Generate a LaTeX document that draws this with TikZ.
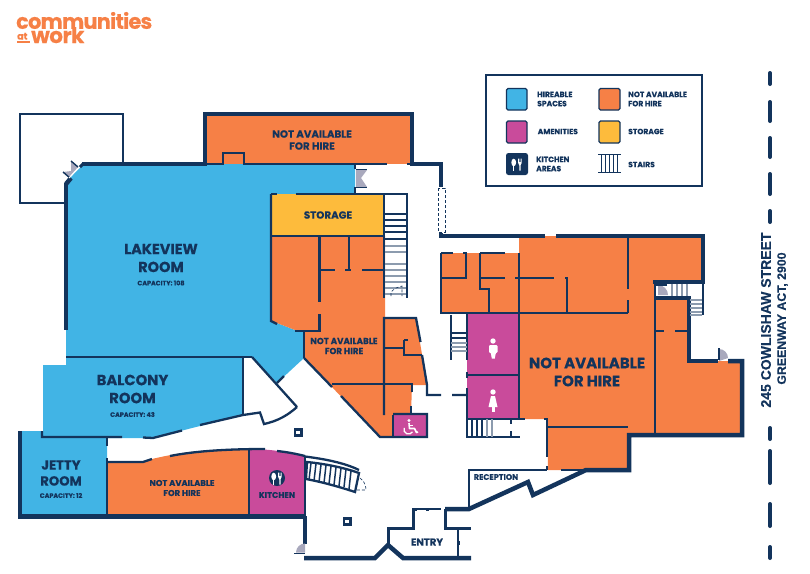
\documentclass[tikz,border=0pt]{standalone}
\usepackage{fontspec}
\setmainfont{Poppins}[BoldFeatures={FakeBold=0.25}]
\newfontfamily\addrfont{Liberation Sans}[BoldFeatures={FakeBold=0.2}]
\definecolor{blu}{HTML}{41B4E5}
\definecolor{org}{HTML}{F68046}
\definecolor{mag}{HTML}{C94B9B}
\definecolor{yel}{HTML}{FDBB3C}
\definecolor{nav}{HTML}{13345C}
\definecolor{dor}{HTML}{A9A9BD}
\definecolor{tre}{HTML}{8C9BAE}
\tikzset{
 wall/.style={draw=nav,line width=4.5pt,line join=miter},
 mwall/.style={draw=nav,line width=2.3pt},
 twall/.style={draw=nav,line width=1.4pt},
 tread/.style={draw=nav,line width=1.2pt},
 ftread/.style={draw=tre,line width=1.5pt},
 lab/.style={text=nav,font=\bfseries,align=center,inner sep=0pt},
 swatch/.style={draw=nav,line width=1.1pt,rounded corners=1.5pt},
 leg/.style={text=nav,font=\bfseries\fontsize{7.6}{9.2}\selectfont,align=left,anchor=west,inner sep=0pt},
 utensil/.pic={
  \fill[white] (-3.3,-1.5) ellipse[x radius=2.4,y radius=3.8];
  \fill[white] (-3.9,-1) rectangle (-2.7,6.5);
  \fill[white] (1.2,-5.5) -- (1.2,-1) .. controls (1.2,1) and (2.3,1) .. (2.3,1.5) -- (2.3,6.5) -- (3.5,6.5) -- (3.5,1.5) .. controls (3.5,1) and (4.6,1) .. (4.6,-1) -- (4.6,-5.5) -- (4,-5.5) -- (4,-2) -- (3.3,-2) -- (3.3,-5.5) -- (2.5,-5.5) -- (2.5,-2) -- (1.8,-2) -- (1.8,-5.5) -- cycle;
 },
}
\newcommand{\hsz}[2]{\fontsize{#1}{#2}\selectfont}
\begin{document}
\begin{tikzpicture}[x=1pt,y=-1pt]
\useasboundingbox (0,0) rectangle (810,573);
% logo
\node[anchor=west,inner sep=0pt,text=org,font=\bfseries\hsz{21}{22}] (logoa) at (16,20.5) {\addfontfeatures{LetterSpace=-4,FakeBold=0.6}communities};
\node[anchor=base west,inner sep=0pt,text=org,font=\bfseries\hsz{9.6}{10}] (logob) at (17,39.5) {\addfontfeatures{LetterSpace=-2}at};
\draw[org,line width=1.3pt] (17,42) -- (30,42);
\node[anchor=base west,inner sep=0pt,text=org,font=\bfseries\hsz{21.5}{22}] (logoc) at (31,43) {\addfontfeatures{LetterSpace=-2.5,FakeBold=0.6}work};
% balcony annex square
\draw[twall] (66,203) -- (20,203) -- (20,114) -- (123,114) -- (123,163);
% fills
\fill[blu] (82,164) -- (223,164) -- (223,152) -- (244,152) -- (244,164) -- (355,164) -- (355,194) -- (271,194) -- (271,321) -- (277,323) -- (295,330) -- (304,331) -- (304,358) -- (277,383) -- (252,357) -- (66,357) -- (66,183) -- cycle;
\fill[blu] (43,365) -- (66,365) -- (66,357) -- (243,357) -- (243,415) -- (153,438) -- (43,438) -- cycle;
\fill[blu] (20,431) -- (43,431) -- (43,437) -- (107,437) -- (107,516) -- (20,516) -- cycle;
\fill[org] (107,462) -- (143,462) -- (152,459) .. controls (185,451) and (215,449) .. (249,449) -- (249,516) -- (107,516) -- cycle;
\fill[mag] (249,449) .. controls (270,449) and (288,452) .. (305,456) -- (305,516) -- (249,516) -- cycle;
\fill[org] (205,114) rectangle (412,164);
\fill[yel] (271,194) rectangle (384,236);
\fill[org] (271,236) -- (385,236) -- (385,318) -- (416,318) -- (427,385) -- (412,385) -- (411,415) -- (393,415) -- (393,437) -- (380,437) -- (304,358) -- (304,331) -- (295,330) -- (277,323) -- (271,321) -- cycle;
\fill[mag] (393,415) rectangle (427,437);
\fill[org] (441,253) -- (519,253) -- (519,236) -- (703,236) -- (703,282) -- (655,282) -- (655,298) -- (689,298) -- (689,361) -- (742,361) -- (742,435) -- (629,435) -- (629,470) -- (548,470) -- (547,419) -- (519,419) -- (519,313) -- (441,313) -- cycle;
\fill[mag] (467,314) rectangle (519,419);
% outer walls
\draw[wall] (66,183) -- (66,330);
\draw[wall] (71,178) -- (66,184);
\draw[wall] (82,164) -- (205,164) -- (205,114) -- (412,114) -- (412,164) -- (441,164) -- (441,187);
\draw[wall] (441,233) -- (441,236) -- (545,236);
\draw[wall] (556,236) -- (703,236) -- (703,282) -- (653,282);
\draw[wall] (654,298) -- (689,298) -- (689,361) -- (718,361);
\draw[wall] (728,361) -- (742,361) -- (742,435) -- (629,435) -- (629,470) -- (586,470) -- (533,495) -- (528,482) -- (469,509) -- (445,509);
\draw[wall] (20,431) -- (20,516.5) -- (305,516.5);
\draw[wall] (305,516) -- (305,544);
\draw[wall] (304,558) -- (375,558) -- (388,545) -- (403,558) -- (471,558);
\draw[wall,line width=3pt] (388,545) -- (388,528) -- (413,528) -- (413,509);
\draw[wall,line width=3pt] (412,509) -- (417,509);
\draw[wall,line width=3pt] (445,509) -- (445,528) -- (471,528);
\draw[twall] (417,509) -- (441,509);
\fill[nav] (426,507.5) rectangle (429,510.5);
\draw[twall] (458,530) -- (458,558);
\fill[nav] (456.5,541) rectangle (459.5,545);
% door at lakeview corner
\fill[dor] (71,161) -- (78,167) -- (69,177) -- (63,172) -- (71,171) -- cycle;
\draw[twall] (71,161) -- (78,167) (63,172) -- (70,178);
\draw[white,line width=.8pt] (80,167) -- (69,178);
\draw[wall,line width=3pt] (80,167) -- (83,164);
% door north
\fill[dor] (356,170) -- (367,170) -- (361,178) -- (367,187) -- (356,187) -- cycle;
\draw[twall] (356,169.5) -- (367,169.5) (356,187.5) -- (367,187.5);
\draw[mwall] (355,164) -- (355,169) (355,187) -- (355,194);
\draw[mwall] (205,164) -- (223,164) -- (223,153) -- (244,153) -- (244,164) -- (387,164);
\draw[mwall] (407,164) -- (412,164);
% dashed door
\draw[nav,line width=.7pt,densely dashed] (438,188) rectangle (445,232);
% storage, stairs
\draw[mwall] (271,194) -- (271,321) -- (277,324);
\draw[mwall] (271,194) -- (277,194) (296,194) -- (407,194) -- (407,298);
\draw[mwall] (271,236) -- (384,236);
\draw[mwall] (384,194) -- (384,298);
\foreach \y in {214,220,226,232,239} {\draw[tread] (384,\y) -- (407,\y);}
\foreach \y in {246,252,264,270,276,282,288,294} {\draw[ftread] (385,\y) -- (406,\y);}
\draw[nav,line width=.6pt,densely dashed] (391,296) -- (391,292) .. controls (394,289) and (397,287) .. (402,286) -- (402,296);
% interior of mid block
\draw[mwall] (319.5,236) -- (319.5,302) (319.5,314) -- (319.5,331) -- (295,331);
\draw[mwall] (349,236) -- (349,270);
\draw[mwall] (319,270) -- (335,270) (345,270) -- (351,270) (362,270) -- (384,270);
\draw[mwall] (304,331) -- (304,358);
\draw[mwall] (252,357) -- (297,407);
\draw[mwall] (277,383) -- (284,376);
\draw[mwall] (304,358) -- (332,387) (341,396) -- (380,437) -- (427,437) -- (427,414) -- (393,414);
\draw[mwall] (393,415) -- (393,437);
\draw[mwall] (384,415) -- (384,318) -- (416,318) -- (420.5,342);
\draw[mwall] (422,355) -- (427,385) -- (427,395) -- (441,395) (452,395) -- (467,395);
\draw[mwall] (384,348) -- (404,348) (404,340) -- (408,340) (404,340) -- (404,355) -- (422,355);
\draw[mwall] (332,384) -- (412,384) -- (412,392) (411,406) -- (411,415);
% balcony
\draw[mwall] (66,357) -- (252,357);
\draw[mwall] (243,357) -- (243,416);
\draw[mwall] (42,431) -- (42,437) -- (122,437) (143,437.5) -- (153,438) -- (182,430.5) (200,425) -- (243,415) -- (260,412.5) -- (264,424) .. controls (278,421) and (288,415) .. (297,407);
\draw[mwall] (107,437) -- (107,446) (107,458) -- (107,516);
\draw[mwall] (107,462) -- (143,462) -- (152,459);
\draw[mwall] (170,456) .. controls (190,452) and (220,449) .. (265,449);
\draw[mwall] (277,451) .. controls (287,452) and (297,454) .. (305,456);
\draw[mwall] (249,449) -- (249,516) (305,456) -- (305,516);
% kitchen stairs
\draw[mwall] (305,456.5) .. controls (325,459) and (345,463) .. (359,470);
\draw[mwall] (307,462) .. controls (327,464) and (345,468) .. (359,473) -- (355,492) .. controls (340,487) and (322,482) .. (306,479) -- cycle;
\foreach \x/\y/\u/\v in {311/463/309/480,316/463.5/314/481,321/464.5/319/482,326/465/324/483,331/466/329/484,336/467/334/485,341/468/339/486,346/469/344/487,351/471/349/489} {\draw[nav,line width=1.5pt] (\x,\y) -- (\u,\v);}
\draw[nav,line width=.6pt,densely dashed] (360,478) .. controls (364,481) and (366,485) .. (366,490) -- (356,490);
% pillars
\draw[mwall] (295,429.5) rectangle (301.5,435.5);
\draw[mwall] (344,518.5) rectangle (350.5,524.5);
% door SW
\fill[dor] (296,552.5) arc[start angle=180,end angle=270,radius=9] -- (305,552.5) -- cycle;
\draw[twall] (294,553.5) -- (305,553.5);
% reception
\draw[mwall] (469,509) -- (469,470) -- (547,470);
\draw[mwall] (561,470) -- (590,470);
% right block interior
\draw[mwall] (441,253) -- (453,253) (441,253) -- (441,313) -- (628,313);
\draw[mwall] (463,253) -- (466,253) -- (466,278) -- (441,278);
\draw[mwall] (480,253) -- (505,253) (480,253) -- (480,289) -- (489,289) -- (489,313);
\draw[mwall] (479,278) -- (505,278) (515,278) -- (554,278) (565,278) -- (567,278) -- (567,313);
\draw[mwall] (519,253) -- (519,419);
\draw[mwall] (628,236) -- (628,289) (628,300) -- (628,313);
\draw[mwall] (519,419) -- (525,419) (544,419) -- (547,419) -- (547,457) (547,466) -- (547,470);
\draw[mwall] (548,427) -- (628,427);
\draw[mwall] (655,282) -- (655,435);
\draw[mwall] (655,331) -- (664,331) (675,331) -- (688,331);
% amenities
\draw[mwall] (467,314) -- (467,360) (467,372) -- (467,378) (467,388) -- (467,438);
\draw[mwall] (467,375) -- (519,375);
\draw[mwall] (467,419) -- (519,419);
\draw[mwall] (467,437) -- (520,437);
\draw[mwall] (451,315) -- (451,360);
\foreach \y in {333,338} {\draw[tread] (451,\y) -- (467,\y);}
\foreach \y in {343,347,351} {\draw[ftread] (451,\y) -- (467,\y);}
\foreach \x in {472,477,482} {\draw[tread] (\x,419) -- (\x,437);}
\foreach \x in {487,492} {\draw[ftread] (\x,419) -- (\x,437);}
\draw[mwall] (511,419) -- (511,424) (511,431) -- (511,437);
% east stairs
\foreach \x in {672,677,682,687} {\draw[ftread] (\x,284) -- (\x,296);}
\foreach \y in {300,304,308,312,315} {\draw[ftread] (690,\y) -- (702,\y);}
\draw[twall] (703,284) -- (703,315);
\fill[dor] (658,295) -- (658,285) arc[start angle=270,end angle=360,radius=10] -- cycle;
\fill[nav] (656,284) rectangle (667,285.5);
% door east
\fill[dor] (719,361) -- (719,349) arc[start angle=270,end angle=360,radius=9] -- cycle;
\draw[twall] (719,348) -- (719,360);
% toilets
\fill[white] (493,341) circle[radius=2.7];
\fill[white,rounded corners=1.2pt] (489,345) rectangle (497.5,353);
\fill[white] (490.5,352) rectangle (496,353.5);
\fill[white] (490.8,353) -- (495.8,353) -- (494.8,358.5) -- (491.8,358.5) -- cycle;
\fill[white] (493,392) circle[radius=2.7];
\fill[white] (491,396) -- (495,396) -- (497.5,407) -- (488.5,407) -- cycle;
\fill[white] (491.5,406) rectangle (494.5,412);
% wheelchair
\fill[white] (409,420.5) circle[radius=1.7];
\draw[white,line width=1.6pt,line join=round] (409,423) -- (409.5,428.5) -- (414.5,428.5) -- (416.5,432.5) -- (418,432);
\draw[white,line width=1.3pt] (409,425.5) -- (413,425.5);
\draw[white,line width=1.3pt] (408.5,429.5) ++(200:4.6) arc[start angle=200,end angle=30,radius=4.6];
% kitchen icon
\fill[nav] (277,478) circle[radius=8];
\pic at (277,478) {utensil};
% labels
\node[lab,font=\bfseries\hsz{10.3}{12}] (t1) at (312,140) {NOT AVAILABLE\\FOR HIRE};
\node[lab,font=\bfseries\hsz{10.3}{12}] (t2) at (328,215) {STORAGE};
\node[lab,font=\bfseries\hsz{14.5}{18}] (t3) at (161,258) {LAKEVIEW\\ROOM};
\node[lab,font=\bfseries\hsz{6.4}{7}] (t4) at (161,283) {CAPACITY: 108};
\node[lab,font=\bfseries\hsz{8.7}{10}] (t5) at (344,346) {NOT AVAILABLE\\FOR HIRE};
\node[lab,font=\bfseries\hsz{15}{18}] (t6) at (587,372) {NOT AVAILABLE\\FOR HIRE};
\node[lab,font=\bfseries\hsz{14.8}{18}] (t7) at (132.5,389) {BALCONY\\ROOM};
\node[lab,font=\bfseries\hsz{6.4}{7}] (t8) at (132.5,414.5) {CAPACITY: 43};
\node[lab,font=\bfseries\hsz{13.2}{16}] (t9) at (61,473) {JETTY\\ROOM};
\node[lab,font=\bfseries\hsz{6.4}{7}] (t10) at (61,495.5) {CAPACITY: 12};
\node[lab,font=\bfseries\hsz{8.4}{10}] (t11) at (182,488) {NOT AVAILABLE\\FOR HIRE};
\node[lab,font=\bfseries\hsz{8.3}{10}] (t12) at (277,495) {KITCHEN};
\node[lab,font=\bfseries\hsz{10}{10}] (t13) at (427,542) {ENTRY};
\node[lab,font=\bfseries\hsz{8}{8}] (t14) at (496,477) {RECEPTION};
% legend
\draw[nav,line width=1.1pt] (486,75) rectangle (702,186);
\draw[swatch,fill=blu] (506.5,88.5) rectangle (527,110);
\draw[swatch,fill=org] (599,88.5) rectangle (620,110);
\draw[swatch,fill=mag] (506.5,121) rectangle (527,143);
\draw[swatch,fill=yel] (599,121) rectangle (620,143);
\fill[nav,rounded corners=2.5pt] (506,153) rectangle (528,175);
\pic at (517,164) {utensil};
\draw[nav,line width=1pt] (598,154.5) -- (621,154.5) (598,172.5) -- (621,172.5);
\foreach \x in {601,605,609,613,617} {\draw[nav,line width=.8pt] (\x,154) -- (\x,172);}
\node[leg] (l1) at (537,99) {HIREABLE\\SPACES};
\node[leg] (l2) at (628,99) {NOT AVAILABLE\\FOR HIRE};
\node[leg] (l3) at (537.5,131.5) {AMENITIES};
\node[leg] (l4) at (628,131.5) {STORAGE};
\node[leg] (l5) at (536,164) {KITCHEN\\AREAS};
\node[leg] (l6) at (628,164.5) {STAIRS};
% road
\foreach \a/\b in {73/84,102/121,138/157,174/194,211/222,428/439,451/483,504/526,547/558} {\draw[nav,line width=4pt,line cap=round] (770,\a) -- (770,\b);}
\node[rotate=90,text=nav,inner sep=0pt,font=\addrfont\bfseries\hsz{14}{14}] (a1) at (766,320) {245 COWLISHAW STREET};
\node[rotate=90,text=nav,inner sep=0pt,font=\addrfont\bfseries\hsz{12.3}{12}] (a2) at (782.5,318.5) {GREENWAY ACT, 2900};
\end{tikzpicture}
\end{document}
